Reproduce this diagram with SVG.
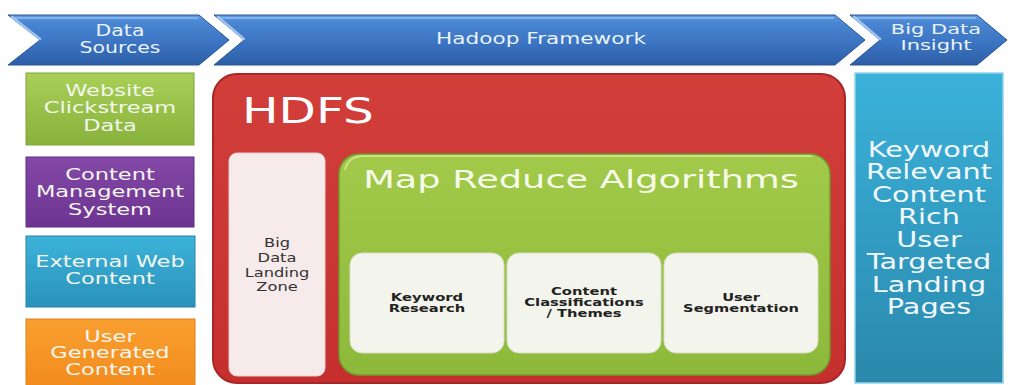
<svg xmlns="http://www.w3.org/2000/svg" width="1011" height="385" viewBox="0 0 1011 385">
<defs>
  <linearGradient id="gBlueChev" x1="0" y1="0" x2="0" y2="1">
    <stop offset="0" stop-color="#5F9BE0"/>
    <stop offset="0.15" stop-color="#4A86D2"/>
    <stop offset="0.6" stop-color="#3A72C0"/>
    <stop offset="1" stop-color="#2D5EA6"/>
  </linearGradient>
  <linearGradient id="gGreen" x1="0" y1="0" x2="0" y2="1">
    <stop offset="0" stop-color="#A9CF56"/>
    <stop offset="1" stop-color="#88B23C"/>
  </linearGradient>
  <linearGradient id="gPurple" x1="0" y1="0" x2="0" y2="1">
    <stop offset="0" stop-color="#8448A6"/>
    <stop offset="1" stop-color="#6C3490"/>
  </linearGradient>
  <linearGradient id="gCyan" x1="0" y1="0" x2="0" y2="1">
    <stop offset="0" stop-color="#3DB3DA"/>
    <stop offset="1" stop-color="#2A92BA"/>
  </linearGradient>
  <linearGradient id="gOrange" x1="0" y1="0" x2="0" y2="1">
    <stop offset="0" stop-color="#F9A030"/>
    <stop offset="1" stop-color="#F28A1C"/>
  </linearGradient>
  <linearGradient id="gRight" x1="0" y1="0" x2="0" y2="1">
    <stop offset="0" stop-color="#3BB2DA"/>
    <stop offset="1" stop-color="#2A88AC"/>
  </linearGradient>
  <linearGradient id="gRed" x1="0" y1="0" x2="0" y2="1">
    <stop offset="0" stop-color="#D23F3B"/>
    <stop offset="1" stop-color="#C5302E"/>
  </linearGradient>
  <linearGradient id="gMR" x1="0" y1="0" x2="0" y2="1">
    <stop offset="0" stop-color="#A2C94A"/>
    <stop offset="1" stop-color="#8DB93A"/>
  </linearGradient>
  <style>
    .chev { fill: url(#gBlueChev); stroke: #2A5598; stroke-width: 1; }
    .chevhl { fill: none; stroke: #A9CBF2; stroke-width: 2.5; stroke-linecap: round; opacity: 0.9; }
    .chevtop { fill: none; stroke: #8DB9EC; stroke-width: 2; opacity: 0.8; }
    .hdr { font-family: "DejaVu Sans", Verdana, sans-serif; font-size: 15.5px; fill: #EAF2FB; text-anchor: middle; }
    .src { font-family: "DejaVu Sans", Verdana, sans-serif; font-size: 15px; fill: #F4F6EE; text-anchor: middle; }
    .srcbox { stroke-width: 1; }
    .big { font-family: "DejaVu Sans", Verdana, sans-serif; fill: #FFFFFF; }
    .lz { font-family: "DejaVu Sans", Verdana, sans-serif; font-size: 13px; fill: #333333; text-anchor: middle; }
    .inner { fill: #F3F4EC; stroke: #D8DCC8; stroke-width: 1; }
    .itxt { font-family: "DejaVu Sans", Verdana, sans-serif; font-size: 11px; font-weight: bold; fill: #222222; text-anchor: middle; }
    .rtxt { font-family: "DejaVu Sans", Verdana, sans-serif; font-size: 20.5px; fill: #F2F8FC; text-anchor: middle; }
  </style>
</defs>
<rect x="0" y="0" width="1011" height="385" fill="#FFFFFF"/>

<g id="chevron-data-sources">
  <polygon class="chev" points="8,15 199,15 229,40 199,65 8,65 40,40"/>
  <line class="chevtop" x1="12" y1="18" x2="198" y2="18"/>
  <line class="chevhl" x1="12" y1="17" x2="40" y2="39"/>
  <text class="hdr" transform="translate(120,0) scale(1.32,1)"><tspan x="0" y="36">Data</tspan><tspan x="0" y="53">Sources</tspan></text>
</g>

<g id="chevron-hadoop">
  <polygon class="chev" points="214,15 835,15 865,40 835,65 214,65 244,40"/>
  <line class="chevtop" x1="218" y1="18" x2="834" y2="18"/>
  <line class="chevhl" x1="218" y1="17" x2="244" y2="39"/>
  <text class="hdr" transform="translate(541,44) scale(1.31,1)" x="0" y="0" style="font-size:16.5px">Hadoop Framework</text>
</g>

<g id="chevron-insight">
  <polygon class="chev" points="850,15 977,15 1007,40 977,65 850,65 880,40"/>
  <line class="chevtop" x1="854" y1="18" x2="976" y2="18"/>
  <line class="chevhl" x1="854" y1="17" x2="880" y2="39"/>
  <text class="hdr" transform="translate(936,0) scale(1.5,1)" style="font-size:14px"><tspan x="0" y="34">Big Data</tspan><tspan x="0" y="50.5">Insight</tspan></text>
</g>

<g id="src-website">
  <rect class="srcbox" x="26" y="73" width="168" height="72" fill="url(#gGreen)" stroke="#7FA436"/>
  <text class="src" transform="translate(110,0) scale(1.5,1)"><tspan x="0" y="96">Website</tspan><tspan x="0" y="113.5">Clickstream</tspan><tspan x="0" y="131">Data</tspan></text>
</g>

<g id="src-cms">
  <rect class="srcbox" x="26" y="157" width="168" height="70" fill="url(#gPurple)" stroke="#5E2C80"/>
  <text class="src" transform="translate(110,0) scale(1.5,1)"><tspan x="0" y="180">Content</tspan><tspan x="0" y="197.5">Management</tspan><tspan x="0" y="215">System</tspan></text>
</g>

<g id="src-external">
  <rect class="srcbox" x="26" y="236" width="169" height="71" fill="url(#gCyan)" stroke="#2682A8"/>
  <text class="src" transform="translate(110,0) scale(1.5,1)"><tspan x="0" y="267">External Web</tspan><tspan x="0" y="284">Content</tspan></text>
</g>

<g id="src-user">
  <rect class="srcbox" x="26" y="319" width="169" height="70" fill="url(#gOrange)" stroke="#E07E18"/>
  <text class="src" transform="translate(110,0) scale(1.5,1)"><tspan x="0" y="342">User</tspan><tspan x="0" y="358.5">Generated</tspan><tspan x="0" y="375">Content</tspan></text>
</g>

<g id="hdfs">
  <rect x="213" y="74" width="632" height="309" rx="24" ry="24" fill="url(#gRed)" stroke="#A82626" stroke-width="2"/>
  <text class="big" transform="translate(242,123) scale(1.35,1)" x="0" y="0" style="font-size:36px">HDFS</text>
</g>

<g id="landing-zone">
  <rect x="229" y="153" width="96" height="223" rx="8" ry="8" fill="#F6EAEA" stroke="#E2CFCF" stroke-width="1"/>
  <text class="lz" transform="translate(277,0) scale(1.25,1)"><tspan x="0" y="247">Big</tspan><tspan x="0" y="262">Data</tspan><tspan x="0" y="277">Landing</tspan><tspan x="0" y="291">Zone</tspan></text>
</g>

<g id="map-reduce">
  <rect x="339" y="154" width="491" height="221" rx="20" ry="20" fill="url(#gMR)" stroke="#6F9A2E" stroke-width="1.5"/>
  <path d="M345,170 Q348,157 362,156 L812,156" fill="none" stroke="#D6EA94" stroke-width="2" opacity="0.8"/>
  <text class="big" transform="translate(581,188) scale(1.47,1)" x="0" y="0" style="font-size:25px;fill:#F6FBEA;text-anchor:middle">Map Reduce Algorithms</text>
</g>

<g id="keyword-research">
  <rect class="inner" x="350" y="253" width="154" height="100" rx="12" ry="12"/>
  <text class="itxt" transform="translate(427,0) scale(1.34,1)"><tspan x="0" y="301">Keyword</tspan><tspan x="0" y="312">Research</tspan></text>
</g>

<g id="content-classifications">
  <rect class="inner" x="507" y="253" width="154" height="100" rx="12" ry="12"/>
  <text class="itxt" transform="translate(584,0) scale(1.34,1)"><tspan x="0" y="295">Content</tspan><tspan x="0" y="306">Classifications</tspan><tspan x="0" y="317">/ Themes</tspan></text>
</g>

<g id="user-segmentation">
  <rect class="inner" x="664" y="253" width="154" height="100" rx="12" ry="12"/>
  <text class="itxt" transform="translate(741,0) scale(1.33,1)"><tspan x="0" y="301">User</tspan><tspan x="0" y="312">Segmentation</tspan></text>
</g>

<g id="insight-pages">
  <rect x="855" y="73" width="148" height="310" fill="url(#gRight)" stroke="#8FD3EC" stroke-width="1.5"/>
  <text class="rtxt" transform="translate(929,0) scale(1.4,1)"><tspan x="0" y="157">Keyword</tspan><tspan x="0" y="179.5">Relevant</tspan><tspan x="0" y="202">Content</tspan><tspan x="0" y="224.5">Rich</tspan><tspan x="0" y="247">User</tspan><tspan x="0" y="269.5">Targeted</tspan><tspan x="0" y="292">Landing</tspan><tspan x="0" y="314.5">Pages</tspan></text>
</g>

<g id="connectors"></g>
</svg>
